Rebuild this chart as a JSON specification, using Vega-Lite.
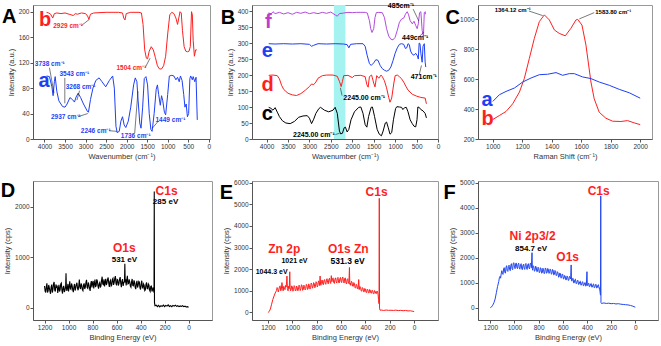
{
"$schema": "https://vega.github.io/schema/vega-lite/v6.json",
"padding": {"left": 0, "top": 1, "right": 0, "bottom": 0},
"columns": 3,
"align": "none",
"bounds": "flush",
"spacing": {"row": 42, "column": 40},
"resolve": {"scale": {"color": "independent"}},
"config": {
  "font": "Liberation Sans",
  "view": {"stroke": "#999", "strokeWidth": 1},
  "axis": {"grid": false, "labelFontSize": 6.5, "titleFontSize": 7.5, "titleFontWeight": "normal", "labelColor": "#333", "titleColor": "#333", "domainColor": "#555", "tickColor": "#555", "tickSize": 3, "labelPadding": 1, "titlePadding": 3, "labelFont": "Liberation Sans", "titleFont": "Liberation Sans", "labelOverlap": false, "labelFlush": false, "tickCount": 20}
},
"concat": [
{
  "width": 177, "height": 134,
  "layer": [
    {"data": {"values": [
      {"x":3950,"y":99,"s":"a"},{"x":3880,"y":98,"s":"a"},{"x":3820,"y":82,"s":"a"},{"x":3790,"y":68,"s":"a"},{"x":3760,"y":90,"s":"a"},{"x":3740,"y":98,"s":"a"},{"x":3700,"y":75,"s":"a"},{"x":3650,"y":60,"s":"a"},{"x":3560,"y":51,"s":"a"},{"x":3500,"y":50,"s":"a"},{"x":3450,"y":55,"s":"a"},{"x":3380,"y":65,"s":"a"},{"x":3320,"y":62,"s":"a"},{"x":3270,"y":58,"s":"a"},{"x":3230,"y":66,"s":"a"},{"x":3180,"y":72,"s":"a"},{"x":3120,"y":65,"s":"a"},{"x":3050,"y":55,"s":"a"},{"x":2960,"y":44,"s":"a"},{"x":2930,"y":42,"s":"a"},{"x":2880,"y":62,"s":"a"},{"x":2820,"y":80,"s":"a"},{"x":2750,"y":92,"s":"a"},{"x":2670,"y":96,"s":"a"},{"x":2600,"y":90,"s":"a"},{"x":2510,"y":82,"s":"a"},{"x":2420,"y":92,"s":"a"},{"x":2340,"y":99,"s":"a"},{"x":2300,"y":80,"s":"a"},{"x":2260,"y":20,"s":"a"},{"x":2230,"y":10,"s":"a"},{"x":2180,"y":12,"s":"a"},{"x":2140,"y":28,"s":"a"},{"x":2100,"y":35,"s":"a"},{"x":2060,"y":22,"s":"a"},{"x":2020,"y":18,"s":"a"},{"x":1960,"y":28,"s":"a"},{"x":1900,"y":50,"s":"a"},{"x":1830,"y":85,"s":"a"},{"x":1790,"y":96,"s":"a"},{"x":1750,"y":90,"s":"a"},{"x":1720,"y":60,"s":"a"},{"x":1680,"y":25,"s":"a"},{"x":1650,"y":17,"s":"a"},{"x":1610,"y":50,"s":"a"},{"x":1570,"y":95,"s":"a"},{"x":1530,"y":98,"s":"a"},{"x":1490,"y":85,"s":"a"},{"x":1450,"y":40,"s":"a"},{"x":1410,"y":15,"s":"a"},{"x":1380,"y":12,"s":"a"},{"x":1330,"y":40,"s":"a"},{"x":1280,"y":78,"s":"a"},{"x":1250,"y":85,"s":"a"},{"x":1220,"y":70,"s":"a"},{"x":1180,"y":53,"s":"a"},{"x":1150,"y":68,"s":"a"},{"x":1120,"y":60,"s":"a"},{"x":1080,"y":42,"s":"a"},{"x":1050,"y":38,"s":"a"},{"x":1000,"y":70,"s":"a"},{"x":960,"y":99,"s":"a"},{"x":900,"y":100,"s":"a"},{"x":850,"y":99,"s":"a"},{"x":800,"y":93,"s":"a"},{"x":760,"y":97,"s":"a"},{"x":720,"y":90,"s":"a"},{"x":690,"y":99,"s":"a"},{"x":650,"y":92,"s":"a"},{"x":610,"y":70,"s":"a"},{"x":580,"y":50,"s":"a"},{"x":550,"y":55,"s":"a"},{"x":520,"y":35,"s":"a"},{"x":490,"y":40,"s":"a"},{"x":460,"y":95,"s":"a"},{"x":440,"y":99,"s":"a"},{"x":400,"y":93,"s":"a"},{"x":380,"y":98,"s":"a"},{"x":340,"y":90,"s":"a"},{"x":310,"y":97,"s":"a"},{"x":280,"y":30,"s":"a"},
      {"x":3950,"y":199,"s":"b"},{"x":3900,"y":198,"s":"b"},{"x":3850,"y":196,"s":"b"},{"x":3800,"y":190,"s":"b"},{"x":3760,"y":197,"s":"b"},{"x":3700,"y":198,"s":"b"},{"x":3600,"y":197,"s":"b"},{"x":3500,"y":198,"s":"b"},{"x":3400,"y":196,"s":"b"},{"x":3300,"y":194,"s":"b"},{"x":3250,"y":197,"s":"b"},{"x":3200,"y":196,"s":"b"},{"x":3100,"y":198,"s":"b"},{"x":3000,"y":197,"s":"b"},{"x":2950,"y":193,"s":"b"},{"x":2920,"y":188,"s":"b"},{"x":2880,"y":196,"s":"b"},{"x":2800,"y":198,"s":"b"},{"x":2500,"y":199,"s":"b"},{"x":2200,"y":199,"s":"b"},{"x":2100,"y":198,"s":"b"},{"x":2070,"y":190,"s":"b"},{"x":2040,"y":187,"s":"b"},{"x":2010,"y":197,"s":"b"},{"x":1900,"y":199,"s":"b"},{"x":1700,"y":199,"s":"b"},{"x":1640,"y":198,"s":"b"},{"x":1600,"y":180,"s":"b"},{"x":1560,"y":140,"s":"b"},{"x":1520,"y":127,"s":"b"},{"x":1490,"y":126,"s":"b"},{"x":1450,"y":138,"s":"b"},{"x":1400,"y":145,"s":"b"},{"x":1350,"y":140,"s":"b"},{"x":1300,"y":128,"s":"b"},{"x":1250,"y":115,"s":"b"},{"x":1200,"y":110,"s":"b"},{"x":1150,"y":110,"s":"b"},{"x":1100,"y":115,"s":"b"},{"x":1050,"y":130,"s":"b"},{"x":1000,"y":165,"s":"b"},{"x":950,"y":195,"s":"b"},{"x":900,"y":199,"s":"b"},{"x":850,"y":197,"s":"b"},{"x":800,"y":190,"s":"b"},{"x":760,"y":180,"s":"b"},{"x":730,"y":190,"s":"b"},{"x":700,"y":200,"s":"b"},{"x":670,"y":198,"s":"b"},{"x":640,"y":170,"s":"b"},{"x":600,"y":145,"s":"b"},{"x":560,"y":138,"s":"b"},{"x":520,"y":137,"s":"b"},{"x":480,"y":138,"s":"b"},{"x":450,"y":145,"s":"b"},{"x":420,"y":200,"s":"b"},{"x":400,"y":195,"s":"b"},{"x":380,"y":155,"s":"b"},{"x":350,"y":130,"s":"b"},{"x":320,"y":140,"s":"b"},{"x":290,"y":140,"s":"b"}
    ]},
    "mark": {"type": "line", "strokeWidth": 1},
    "encoding": {
      "x": {"field": "x", "type": "quantitative", "scale": {"domain": [-30, 4280], "reverse": true, "nice": false, "zero": false}, "axis": {"values": [0,500,1000,1500,2000,2500,3000,3500,4000], "tickCount": 20, "format": "d", "labelOverlap": false, "title": "Wavenumber (cm⁻¹)"}},
      "y": {"field": "y", "type": "quantitative", "scale": {"domain": [0, 210.5], "nice": false, "zero": false}, "axis": {"values": [0,40,80,120,160,200], "tickCount": 20, "format": "d", "labelOverlap": false, "title": "Intensity (a.u.)"}},
      "color": {"field": "s", "type": "nominal", "scale": {"domain": ["a","b","k"], "range": ["#1f3ff5","#ff1f1f","#000000"]}, "legend": null}
    }},
    {"data": {"values": [
      {"x":3106,"y":178,"x2":2906,"y2":188},{"x":1549,"y":112,"x2":1429,"y2":127},{"x":3880,"y":112,"x2":3768,"y2":72},{"x":3505,"y":96,"x2":3505,"y2":56},{"x":3146,"y":76,"x2":3210,"y2":61},{"x":3186,"y":35,"x2":2946,"y2":40},{"x":2427,"y":13,"x2":2227,"y2":12},{"x":1804,"y":9,"x2":1724,"y2":75},{"x":1230,"y":28,"x2":1373,"y2":17}
    ]},
    "mark": {"type": "rule", "strokeWidth": 0.6, "color": "#222"},
    "encoding": {"x": {"field": "x", "type": "quantitative"}, "y": {"field": "y", "type": "quantitative"}, "x2": {"field": "x2"}, "y2": {"field": "y2"}}},
    {"data": {"values": [
      {"x":3425,"y":175,"t":"2929 cm⁻¹","s":"b"},{"x":1884,"y":108,"t":"1504 cm⁻¹","s":"b"},{"x":3872,"y":115,"t":"3738 cm⁻¹","s":"a"},{"x":3273,"y":99,"t":"3543 cm⁻¹","s":"a"},{"x":3122,"y":78,"t":"3268 cm⁻¹","s":"a"},{"x":3481,"y":31,"t":"2937 cm⁻¹","s":"a"},{"x":2754,"y":10,"t":"2246 cm⁻¹","s":"a"},{"x":1780,"y":2,"t":"1736 cm⁻¹","s":"a"},{"x":934,"y":26,"t":"1449 cm⁻¹","s":"a"}
    ]},
    "mark": {"type": "text", "fontSize": 6.5, "fontWeight": "bold", "align": "center", "baseline": "alphabetic"},
    "encoding": {"x": {"field": "x", "type": "quantitative"}, "y": {"field": "y", "type": "quantitative"}, "text": {"field": "t"}, "color": {"field": "s", "type": "nominal", "scale": {"domain": ["a","b","k"], "range": ["#1f3ff5","#ff1f1f","#000000"]}, "legend": null}}},
    {"data": {"values": [
      {"x":3984,"y":177,"t":"b","s":"b"},{"x":4008,"y":81,"t":"a","s":"a"},{"x":4860,"y":183,"t":"A","s":"k"}
    ]},
    "mark": {"type": "text", "fontSize": 20, "fontWeight": "bold", "align": "center", "baseline": "alphabetic"},
    "encoding": {"x": {"field": "x", "type": "quantitative"}, "y": {"field": "y", "type": "quantitative"}, "text": {"field": "t"}, "color": {"field": "s", "type": "nominal", "scale": {"domain": ["a","b","k"], "range": ["#1f3ff5","#ff1f1f","#000000"]}, "legend": null}}}
  ]
},
{
  "width": 186, "height": 134,
  "layer": [
    {"data": {"values": [{"x":2160,"x2":2430}]},
    "mark": {"type": "rect", "color": "#a4f3f1"},
    "encoding": {"x": {"field": "x", "type": "quantitative", "scale": {"domain": [0, 4340], "reverse": true, "nice": false, "zero": false}, "axis": {"values": [0,500,1000,1500,2000,2500,3000,3500,4000], "tickCount": 20, "format": "d", "labelOverlap": false, "title": "Wavenumber (cm⁻¹)"}}, "x2": {"field": "x2"}}},
    {"data": {"values": [
      {"x":3950,"y":395,"s":"f"},{"x":3900,"y":390,"s":"f"},{"x":3850,"y":398,"s":"f"},{"x":3800,"y":392,"s":"f"},{"x":3700,"y":396,"s":"f"},{"x":3600,"y":391,"s":"f"},{"x":3500,"y":395,"s":"f"},{"x":3400,"y":390,"s":"f"},{"x":3300,"y":396,"s":"f"},{"x":3200,"y":393,"s":"f"},{"x":3100,"y":397,"s":"f"},{"x":3000,"y":392,"s":"f"},{"x":2900,"y":395,"s":"f"},{"x":2800,"y":392,"s":"f"},{"x":2700,"y":396,"s":"f"},{"x":2600,"y":393,"s":"f"},{"x":2500,"y":397,"s":"f"},{"x":2400,"y":388,"s":"f"},{"x":2350,"y":384,"s":"f"},{"x":2300,"y":392,"s":"f"},{"x":2200,"y":394,"s":"f"},{"x":2100,"y":396,"s":"f"},{"x":2000,"y":395,"s":"f"},{"x":1900,"y":396,"s":"f"},{"x":1800,"y":396,"s":"f"},{"x":1700,"y":396,"s":"f"},{"x":1650,"y":394,"s":"f"},{"x":1600,"y":370,"s":"f"},{"x":1570,"y":345,"s":"f"},{"x":1540,"y":333,"s":"f"},{"x":1500,"y":345,"s":"f"},{"x":1470,"y":380,"s":"f"},{"x":1440,"y":395,"s":"f"},{"x":1380,"y":396,"s":"f"},{"x":1300,"y":395,"s":"f"},{"x":1250,"y":380,"s":"f"},{"x":1200,"y":345,"s":"f"},{"x":1150,"y":322,"s":"f"},{"x":1100,"y":312,"s":"f"},{"x":1050,"y":310,"s":"f"},{"x":1000,"y":318,"s":"f"},{"x":950,"y":340,"s":"f"},{"x":900,"y":365,"s":"f"},{"x":850,"y":375,"s":"f"},{"x":800,"y":378,"s":"f"},{"x":760,"y":390,"s":"f"},{"x":720,"y":398,"s":"f"},{"x":690,"y":390,"s":"f"},{"x":650,"y":370,"s":"f"},{"x":600,"y":360,"s":"f"},{"x":560,"y":368,"s":"f"},{"x":520,"y":355,"s":"f"},{"x":485,"y":345,"s":"f"},{"x":460,"y":360,"s":"f"},{"x":430,"y":395,"s":"f"},{"x":400,"y":398,"s":"f"},{"x":370,"y":340,"s":"f"},{"x":340,"y":320,"s":"f"},{"x":320,"y":395,"s":"f"},{"x":300,"y":398,"s":"f"},{"x":290,"y":390,"s":"f"},
      {"x":3950,"y":298,"s":"e"},{"x":3800,"y":297,"s":"e"},{"x":3600,"y":298,"s":"e"},{"x":3400,"y":297,"s":"e"},{"x":3200,"y":298,"s":"e"},{"x":3000,"y":296,"s":"e"},{"x":2950,"y":290,"s":"e"},{"x":2900,"y":293,"s":"e"},{"x":2800,"y":298,"s":"e"},{"x":2600,"y":297,"s":"e"},{"x":2400,"y":298,"s":"e"},{"x":2200,"y":297,"s":"e"},{"x":2120,"y":295,"s":"e"},{"x":2080,"y":285,"s":"e"},{"x":2040,"y":296,"s":"e"},{"x":1900,"y":298,"s":"e"},{"x":1750,"y":298,"s":"e"},{"x":1700,"y":290,"s":"e"},{"x":1650,"y":260,"s":"e"},{"x":1600,"y":236,"s":"e"},{"x":1560,"y":230,"s":"e"},{"x":1500,"y":238,"s":"e"},{"x":1450,"y":248,"s":"e"},{"x":1400,"y":246,"s":"e"},{"x":1350,"y":230,"s":"e"},{"x":1300,"y":220,"s":"e"},{"x":1250,"y":215,"s":"e"},{"x":1200,"y":212,"s":"e"},{"x":1150,"y":215,"s":"e"},{"x":1100,"y":225,"s":"e"},{"x":1050,"y":245,"s":"e"},{"x":1000,"y":268,"s":"e"},{"x":950,"y":285,"s":"e"},{"x":900,"y":296,"s":"e"},{"x":850,"y":298,"s":"e"},{"x":800,"y":296,"s":"e"},{"x":760,"y":283,"s":"e"},{"x":730,"y":285,"s":"e"},{"x":700,"y":298,"s":"e"},{"x":670,"y":295,"s":"e"},{"x":640,"y":275,"s":"e"},{"x":600,"y":265,"s":"e"},{"x":560,"y":262,"s":"e"},{"x":520,"y":268,"s":"e"},{"x":480,"y":260,"s":"e"},{"x":460,"y":250,"s":"e"},{"x":440,"y":300,"s":"e"},{"x":420,"y":298,"s":"e"},{"x":400,"y":268,"s":"e"},{"x":370,"y":240,"s":"e"},{"x":350,"y":290,"s":"e"},{"x":320,"y":298,"s":"e"},{"x":300,"y":240,"s":"e"},{"x":285,"y":225,"s":"e"},
      {"x":3950,"y":199,"s":"d"},{"x":3850,"y":200,"s":"d"},{"x":3750,"y":198,"s":"d"},{"x":3700,"y":188,"s":"d"},{"x":3650,"y":168,"s":"d"},{"x":3600,"y":155,"s":"d"},{"x":3500,"y":143,"s":"d"},{"x":3400,"y":138,"s":"d"},{"x":3300,"y":136,"s":"d"},{"x":3200,"y":142,"s":"d"},{"x":3100,"y":152,"s":"d"},{"x":3000,"y":164,"s":"d"},{"x":2950,"y":172,"s":"d"},{"x":2900,"y":170,"s":"d"},{"x":2850,"y":178,"s":"d"},{"x":2800,"y":190,"s":"d"},{"x":2700,"y":198,"s":"d"},{"x":2600,"y":200,"s":"d"},{"x":2450,"y":200,"s":"d"},{"x":2350,"y":196,"s":"d"},{"x":2300,"y":180,"s":"d"},{"x":2260,"y":164,"s":"d"},{"x":2230,"y":180,"s":"d"},{"x":2200,"y":198,"s":"d"},{"x":2100,"y":199,"s":"d"},{"x":2000,"y":192,"s":"d"},{"x":1950,"y":198,"s":"d"},{"x":1800,"y":199,"s":"d"},{"x":1700,"y":195,"s":"d"},{"x":1660,"y":170,"s":"d"},{"x":1630,"y":162,"s":"d"},{"x":1600,"y":195,"s":"d"},{"x":1550,"y":200,"s":"d"},{"x":1500,"y":175,"s":"d"},{"x":1470,"y":163,"s":"d"},{"x":1430,"y":198,"s":"d"},{"x":1380,"y":190,"s":"d"},{"x":1330,"y":200,"s":"d"},{"x":1300,"y":195,"s":"d"},{"x":1250,"y":182,"s":"d"},{"x":1200,"y":160,"s":"d"},{"x":1150,"y":130,"s":"d"},{"x":1120,"y":115,"s":"d"},{"x":1080,"y":128,"s":"d"},{"x":1030,"y":175,"s":"d"},{"x":1000,"y":198,"s":"d"},{"x":950,"y":200,"s":"d"},{"x":900,"y":195,"s":"d"},{"x":850,"y":188,"s":"d"},{"x":800,"y":178,"s":"d"},{"x":750,"y":165,"s":"d"},{"x":700,"y":153,"s":"d"},{"x":600,"y":140,"s":"d"},{"x":500,"y":134,"s":"d"},{"x":400,"y":130,"s":"d"},{"x":300,"y":128,"s":"d"},{"x":270,"y":110,"s":"d"},
      {"x":3950,"y":99,"s":"c"},{"x":3900,"y":96,"s":"c"},{"x":3850,"y":90,"s":"c"},{"x":3800,"y":98,"s":"c"},{"x":3750,"y":84,"s":"c"},{"x":3700,"y":70,"s":"c"},{"x":3630,"y":57,"s":"c"},{"x":3550,"y":50,"s":"c"},{"x":3450,"y":48,"s":"c"},{"x":3350,"y":55,"s":"c"},{"x":3250,"y":68,"s":"c"},{"x":3150,"y":72,"s":"c"},{"x":3050,"y":73,"s":"c"},{"x":3000,"y":65,"s":"c"},{"x":2950,"y":48,"s":"c"},{"x":2900,"y":62,"s":"c"},{"x":2850,"y":80,"s":"c"},{"x":2780,"y":95,"s":"c"},{"x":2740,"y":99,"s":"c"},{"x":2650,"y":90,"s":"c"},{"x":2550,"y":85,"s":"c"},{"x":2450,"y":90,"s":"c"},{"x":2400,"y":99,"s":"c"},{"x":2350,"y":80,"s":"c"},{"x":2300,"y":25,"s":"c"},{"x":2270,"y":16,"s":"c"},{"x":2230,"y":18,"s":"c"},{"x":2190,"y":35,"s":"c"},{"x":2160,"y":37,"s":"c"},{"x":2120,"y":22,"s":"c"},{"x":2080,"y":30,"s":"c"},{"x":2030,"y":60,"s":"c"},{"x":1950,"y":85,"s":"c"},{"x":1850,"y":99,"s":"c"},{"x":1800,"y":100,"s":"c"},{"x":1750,"y":80,"s":"c"},{"x":1700,"y":45,"s":"c"},{"x":1660,"y":37,"s":"c"},{"x":1620,"y":70,"s":"c"},{"x":1560,"y":99,"s":"c"},{"x":1530,"y":100,"s":"c"},{"x":1480,"y":70,"s":"c"},{"x":1420,"y":30,"s":"c"},{"x":1370,"y":15,"s":"c"},{"x":1320,"y":10,"s":"c"},{"x":1280,"y":25,"s":"c"},{"x":1230,"y":50,"s":"c"},{"x":1200,"y":53,"s":"c"},{"x":1160,"y":35,"s":"c"},{"x":1120,"y":15,"s":"c"},{"x":1080,"y":20,"s":"c"},{"x":1040,"y":60,"s":"c"},{"x":990,"y":95,"s":"c"},{"x":960,"y":101,"s":"c"},{"x":900,"y":100,"s":"c"},{"x":850,"y":99,"s":"c"},{"x":820,"y":92,"s":"c"},{"x":780,"y":98,"s":"c"},{"x":740,"y":99,"s":"c"},{"x":700,"y":85,"s":"c"},{"x":650,"y":60,"s":"c"},{"x":600,"y":48,"s":"c"},{"x":560,"y":40,"s":"c"},{"x":520,"y":38,"s":"c"},{"x":490,"y":60,"s":"c"},{"x":470,"y":100,"s":"c"},{"x":440,"y":99,"s":"c"},{"x":400,"y":92,"s":"c"},{"x":350,"y":88,"s":"c"},{"x":300,"y":80,"s":"c"},{"x":270,"y":66,"s":"c"}
    ]},
    "mark": {"type": "line", "strokeWidth": 1},
    "encoding": {
      "x": {"field": "x", "type": "quantitative"},
      "y": {"field": "y", "type": "quantitative", "scale": {"domain": [0, 419], "nice": false, "zero": false}, "axis": {"values": [0,50,100,150,200,250,300,350,400], "tickCount": 20, "format": "d", "labelOverlap": false, "title": "Intensity (a.u.)"}},
      "color": {"field": "s", "type": "nominal", "scale": {"domain": ["c","d","e","f","fl","k"], "range": ["#000000","#ff1f1f","#1f3ff5","#b44ae0","#c23ccc","#000000"]}, "legend": null}
    }},
    {"data": {"values": [
      {"x":579,"y":406,"x2":448,"y2":369},{"x":440,"y":320,"x2":332,"y2":334},{"x":440,"y":200,"x2":386,"y2":230},{"x":2239,"y":136,"x2":2278,"y2":160},{"x":2394,"y":14,"x2":2293,"y2":18}
    ]},
    "mark": {"type": "rule", "strokeWidth": 0.6, "color": "#222"},
    "encoding": {"x": {"field": "x", "type": "quantitative"}, "y": {"field": "y", "type": "quantitative"}, "x2": {"field": "x2"}, "y2": {"field": "y2"}}},
    {"data": {"values": [
      {"x":865,"y":410,"t":"485cm⁻¹","s":"k"},{"x":533,"y":310,"t":"449cm⁻¹","s":"k"},{"x":332,"y":188,"t":"471cm⁻¹","s":"k"},{"x":1722,"y":122,"t":"2245.00 cm⁻¹","s":"k"},{"x":2896,"y":7,"t":"2245.00 cm⁻¹","s":"k"}
    ]},
    "mark": {"type": "text", "fontSize": 7, "fontWeight": "bold", "align": "center", "baseline": "alphabetic"},
    "encoding": {"x": {"field": "x", "type": "quantitative"}, "y": {"field": "y", "type": "quantitative"}, "text": {"field": "t"}, "color": {"field": "s", "type": "nominal", "scale": {"domain": ["c","d","e","f","fl","k"], "range": ["#000000","#ff1f1f","#1f3ff5","#b44ae0","#c23ccc","#000000"]}, "legend": null}}},
    {"data": {"values": [
      {"x":3961,"y":347,"t":"f","s":"fl"},{"x":3980,"y":256,"t":"e","s":"e"},{"x":3977,"y":149,"t":"d","s":"d"},{"x":3980,"y":60,"t":"c","s":"c"},{"x":4900,"y":361,"t":"B","s":"k"}
    ]},
    "mark": {"type": "text", "fontSize": 20, "fontWeight": "bold", "align": "center", "baseline": "alphabetic"},
    "encoding": {"x": {"field": "x", "type": "quantitative"}, "y": {"field": "y", "type": "quantitative"}, "text": {"field": "t"}, "color": {"field": "s", "type": "nominal", "scale": {"domain": ["c","d","e","f","fl","k"], "range": ["#000000","#ff1f1f","#1f3ff5","#b44ae0","#c23ccc","#000000"]}, "legend": null}}}
  ]
},
{
  "width": 174, "height": 134,
  "layer": [
    {"data": {"values": [
      {"x":1000,"y":330,"s":"b"},{"x":1045,"y":357,"s":"b"},{"x":1090,"y":384,"s":"b"},{"x":1135,"y":435,"s":"b"},{"x":1181,"y":514,"s":"b"},{"x":1214,"y":604,"s":"b"},{"x":1248,"y":738,"s":"b"},{"x":1282,"y":873,"s":"b"},{"x":1316,"y":985,"s":"b"},{"x":1350,"y":1030,"s":"b"},{"x":1384,"y":996,"s":"b"},{"x":1418,"y":929,"s":"b"},{"x":1451,"y":906,"s":"b"},{"x":1492,"y":890,"s":"b"},{"x":1530,"y":940,"s":"b"},{"x":1564,"y":996,"s":"b"},{"x":1576,"y":1000,"s":"b"},{"x":1605,"y":962,"s":"b"},{"x":1632,"y":828,"s":"b"},{"x":1666,"y":581,"s":"b"},{"x":1688,"y":469,"s":"b"},{"x":1722,"y":379,"s":"b"},{"x":1767,"y":339,"s":"b"},{"x":1813,"y":319,"s":"b"},{"x":1869,"y":317,"s":"b"},{"x":1914,"y":323,"s":"b"},{"x":1959,"y":308,"s":"b"},{"x":2000,"y":296,"s":"b"},
      {"x":1000,"y":451,"s":"a"},{"x":1045,"y":496,"s":"a"},{"x":1090,"y":518,"s":"a"},{"x":1147,"y":541,"s":"a"},{"x":1203,"y":581,"s":"a"},{"x":1260,"y":608,"s":"a"},{"x":1316,"y":630,"s":"a"},{"x":1372,"y":633,"s":"a"},{"x":1429,"y":644,"s":"a"},{"x":1474,"y":626,"s":"a"},{"x":1519,"y":637,"s":"a"},{"x":1553,"y":637,"s":"a"},{"x":1609,"y":615,"s":"a"},{"x":1666,"y":604,"s":"a"},{"x":1722,"y":581,"s":"a"},{"x":1790,"y":559,"s":"a"},{"x":1858,"y":532,"s":"a"},{"x":1926,"y":509,"s":"a"},{"x":2000,"y":473,"s":"a"}
    ]},
    "mark": {"type": "line", "strokeWidth": 1},
    "encoding": {
      "x": {"field": "x", "type": "quantitative", "scale": {"domain": [900, 2080], "nice": false, "zero": false}, "axis": {"values": [1000,1200,1400,1600,1800,2000], "tickCount": 20, "format": "d", "labelOverlap": false, "title": "Raman Shift (cm⁻¹)"}},
      "y": {"field": "y", "type": "quantitative", "scale": {"domain": [200, 1096], "nice": false, "zero": false}, "axis": {"values": [200,400,600,800,1000], "tickCount": 20, "format": "d", "labelOverlap": false, "title": "Intensity (a.u.)"}},
      "color": {"field": "s", "type": "nominal", "scale": {"domain": ["a","b","k"], "range": ["#1f3ff5","#ff1f1f","#000000"]}, "legend": null}
    }},
    {"data": {"values": [
      {"x":1245,"y":1056,"x2":1339,"y2":1025},{"x":1688,"y":1045,"x2":1587,"y2":1003}
    ]},
    "mark": {"type": "rule", "strokeWidth": 0.6, "color": "#222"},
    "encoding": {"x": {"field": "x", "type": "quantitative"}, "y": {"field": "y", "type": "quantitative"}, "x2": {"field": "x2"}, "y2": {"field": "y2"}}},
    {"data": {"values": [
      {"x":1135,"y":1047,"t":"1364.12 cm⁻¹","s":"k"},{"x":1817,"y":1034,"t":"1583.80 cm⁻¹","s":"k"}
    ]},
    "mark": {"type": "text", "fontSize": 6, "fontWeight": "bold", "align": "center", "baseline": "alphabetic"},
    "encoding": {"x": {"field": "x", "type": "quantitative"}, "y": {"field": "y", "type": "quantitative"}, "text": {"field": "t"}, "color": {"field": "s", "type": "nominal", "scale": {"domain": ["a","b","k"], "range": ["#1f3ff5","#ff1f1f","#000000"]}, "legend": null}}},
    {"data": {"values": [
      {"x":962,"y":424,"t":"a","s":"a"},{"x":965,"y":292,"t":"b","s":"b"},{"x":728,"y":971,"t":"C","s":"k"}
    ]},
    "mark": {"type": "text", "fontSize": 20, "fontWeight": "bold", "align": "center", "baseline": "alphabetic"},
    "encoding": {"x": {"field": "x", "type": "quantitative"}, "y": {"field": "y", "type": "quantitative"}, "text": {"field": "t"}, "color": {"field": "s", "type": "nominal", "scale": {"domain": ["a","b","k"], "range": ["#1f3ff5","#ff1f1f","#000000"]}, "legend": null}}}
  ]
},
{
  "width": 179, "height": 139,
  "layer": [
    {"data": {"values": [
      {"x":1200,"y":430},{"x":1195,"y":330},{"x":1190,"y":301},{"x":1185,"y":420},{"x":1180,"y":482},{"x":1175,"y":300},{"x":1170,"y":333},{"x":1165,"y":450},{"x":1160,"y":394},{"x":1155,"y":330},{"x":1150,"y":275},{"x":1145,"y":410},{"x":1140,"y":456},{"x":1135,"y":300},{"x":1130,"y":357},{"x":1125,"y":470},{"x":1120,"y":508},{"x":1115,"y":350},{"x":1110,"y":319},{"x":1105,"y":460},{"x":1100,"y":390},{"x":1095,"y":440},{"x":1090,"y":292},{"x":1085,"y":370},{"x":1080,"y":454},{"x":1075,"y":320},{"x":1070,"y":356},{"x":1065,"y":470},{"x":1060,"y":488},{"x":1055,"y":340},{"x":1050,"y":280},{"x":1045,"y":400},{"x":1040,"y":432},{"x":1035,"y":310},{"x":1030,"y":344},{"x":1024,"y":420},{"x":1021,"y":680},{"x":1018,"y":400},{"x":1014,"y":330},{"x":1010,"y":388},{"x":1005,"y":470},{"x":1000,"y":320},{"x":995,"y":410},{"x":990,"y":522},{"x":985,"y":380},{"x":980,"y":364},{"x":975,"y":480},{"x":970,"y":436},{"x":965,"y":350},{"x":960,"y":308},{"x":955,"y":420},{"x":950,"y":470},{"x":945,"y":340},{"x":940,"y":392},{"x":935,"y":460},{"x":930,"y":494},{"x":925,"y":380},{"x":920,"y":346},{"x":915,"y":430},{"x":910,"y":558},{"x":905,"y":400},{"x":900,"y":370},{"x":895,"y":480},{"x":890,"y":444},{"x":885,"y":360},{"x":880,"y":338},{"x":875,"y":450},{"x":870,"y":482},{"x":865,"y":370},{"x":860,"y":406},{"x":855,"y":500},{"x":850,"y":550},{"x":845,"y":400},{"x":840,"y":384},{"x":835,"y":500},{"x":830,"y":448},{"x":825,"y":380},{"x":820,"y":332},{"x":815,"y":470},{"x":810,"y":526},{"x":805,"y":400},{"x":800,"y":490},{"x":795,"y":530},{"x":790,"y":383},{"x":785,"y":470},{"x":780,"y":556},{"x":775,"y":420},{"x":770,"y":429},{"x":765,"y":560},{"x":760,"y":532},{"x":755,"y":430},{"x":750,"y":375},{"x":745,"y":470},{"x":740,"y":498},{"x":735,"y":400},{"x":730,"y":431},{"x":725,"y":540},{"x":720,"y":614},{"x":715,"y":470},{"x":710,"y":457},{"x":705,"y":560},{"x":700,"y":420},{"x":695,"y":500},{"x":690,"y":573},{"x":685,"y":450},{"x":680,"y":486},{"x":675,"y":560},{"x":670,"y":599},{"x":665,"y":480},{"x":660,"y":412},{"x":655,"y":520},{"x":650,"y":545},{"x":645,"y":430},{"x":640,"y":448},{"x":635,"y":560},{"x":630,"y":581},{"x":625,"y":450},{"x":620,"y":494},{"x":615,"y":580},{"x":610,"y":627},{"x":605,"y":480},{"x":600,"y":440},{"x":595,"y":560},{"x":590,"y":549},{"x":585,"y":440},{"x":580,"y":478},{"x":575,"y":560},{"x":570,"y":607},{"x":565,"y":480},{"x":560,"y":406},{"x":555,"y":520},{"x":550,"y":565},{"x":545,"y":430},{"x":540,"y":494},{"x":534,"y":520},{"x":531,"y":870},{"x":528,"y":500},{"x":524,"y":560},{"x":520,"y":442},{"x":515,"y":540},{"x":510,"y":631},{"x":505,"y":470},{"x":500,"y":480},{"x":495,"y":560},{"x":490,"y":513},{"x":485,"y":430},{"x":480,"y":406},{"x":475,"y":510},{"x":470,"y":569},{"x":465,"y":440},{"x":460,"y":432},{"x":455,"y":540},{"x":450,"y":505},{"x":445,"y":400},{"x":440,"y":368},{"x":435,"y":480},{"x":430,"y":531},{"x":425,"y":400},{"x":420,"y":444},{"x":415,"y":520},{"x":410,"y":507},{"x":405,"y":390},{"x":400,"y":360},{"x":395,"y":470},{"x":390,"y":534},{"x":385,"y":410},{"x":380,"y":388},{"x":375,"y":470},{"x":370,"y":442},{"x":365,"y":340},{"x":360,"y":356},{"x":355,"y":460},{"x":350,"y":500},{"x":345,"y":380},{"x":340,"y":374},{"x":335,"y":470},{"x":330,"y":448},{"x":325,"y":350},{"x":320,"y":322},{"x":315,"y":420},{"x":310,"y":426},{"x":305,"y":320},{"x":300,"y":360},{"x":295,"y":400},{"x":292,"y":350},{"x":288,"y":300},{"x":286,"y":2300},{"x":284,"y":100},{"x":280,"y":40},{"x":270,"y":50},{"x":260,"y":20},{"x":250,"y":45},{"x":240,"y":15},{"x":230,"y":40},{"x":220,"y":25},{"x":210,"y":50},{"x":200,"y":20},{"x":190,"y":45},{"x":180,"y":30},{"x":170,"y":55},{"x":160,"y":25},{"x":150,"y":40},{"x":140,"y":20},{"x":130,"y":45},{"x":120,"y":30},{"x":110,"y":50},{"x":100,"y":25},{"x":90,"y":40},{"x":80,"y":20},{"x":70,"y":35},{"x":60,"y":25},{"x":50,"y":40},{"x":40,"y":20},{"x":30,"y":30},{"x":20,"y":15},{"x":10,"y":20},{"x":0,"y":10}
    ]},
    "mark": {"type": "line", "strokeWidth": 1.1, "color": "#000000"},
    "encoding": {
      "x": {"field": "x", "type": "quantitative", "scale": {"domain": [-195, 1296], "reverse": true, "nice": false, "zero": false}, "axis": {"values": [0,200,400,600,800,1000,1200], "tickCount": 20, "format": "d", "labelOverlap": false, "title": "Binding Energy (eV)"}},
      "y": {"field": "y", "type": "quantitative", "scale": {"domain": [-244, 2509], "nice": false, "zero": false}, "axis": {"values": [0,1000,2000], "tickCount": 20, "format": "d", "labelOverlap": false, "title": "Intensity (cps)"}}
    }},
    {"data": {"values": [
      {"x":183,"y":2232,"t":"C1s","s":"r"},{"x":535,"y":1106,"t":"O1s","s":"r"}
    ]},
    "mark": {"type": "text", "fontSize": 12, "fontWeight": "bold", "align": "center", "baseline": "alphabetic"},
    "encoding": {"x": {"field": "x", "type": "quantitative"}, "y": {"field": "y", "type": "quantitative"}, "text": {"field": "t"}, "color": {"field": "s", "type": "nominal", "scale": {"domain": ["r","k"], "range": ["#ff1f1f","#000000"]}, "legend": null}}},
    {"data": {"values": [
      {"x":192,"y":2053,"t":"285 eV","s":"k"},{"x":535,"y":907,"t":"531 eV","s":"k"}
    ]},
    "mark": {"type": "text", "fontSize": 8, "fontWeight": "bold", "align": "center", "baseline": "alphabetic"},
    "encoding": {"x": {"field": "x", "type": "quantitative"}, "y": {"field": "y", "type": "quantitative"}, "text": {"field": "t"}, "color": {"field": "s", "type": "nominal", "scale": {"domain": ["r","k"], "range": ["#ff1f1f","#000000"]}, "legend": null}}},
    {"data": {"values": [
      {"x":1504,"y":2198,"t":"D","s":"k"}
    ]},
    "mark": {"type": "text", "fontSize": 20, "fontWeight": "bold", "align": "center", "baseline": "alphabetic"},
    "encoding": {"x": {"field": "x", "type": "quantitative"}, "y": {"field": "y", "type": "quantitative"}, "text": {"field": "t"}, "color": {"field": "s", "type": "nominal", "scale": {"domain": ["r","k"], "range": ["#ff1f1f","#000000"]}, "legend": null}}}
  ]
},
{
  "width": 186, "height": 139,
  "layer": [
    {"data": {"values": [
      {"x":1200,"y":0},{"x":1195,"y":15},{"x":1190,"y":40},{"x":1180,"y":160},{"x":1170,"y":380},{"x":1160,"y":600},{"x":1150,"y":760},{"x":1140,"y":900},{"x":1130,"y":1010},{"x":1125,"y":1150},{"x":1120,"y":1100},{"x":1115,"y":950},{"x":1110,"y":1060},{"x":1105,"y":1200},{"x":1100,"y":1230},{"x":1095,"y":1000},{"x":1090,"y":1080},{"x":1085,"y":1380},{"x":1080,"y":1120},{"x":1075,"y":1000},{"x":1070,"y":1210},{"x":1065,"y":1120},{"x":1060,"y":1050},{"x":1055,"y":1250},{"x":1050,"y":1180},{"x":1044,"y":1680},{"x":1040,"y":1100},{"x":1035,"y":1000},{"x":1030,"y":1220},{"x":1025,"y":1100},{"x":1021,"y":1880},{"x":1018,"y":1150},{"x":1014,"y":1000},{"x":1010,"y":1040},{"x":1005,"y":1230},{"x":1000,"y":1180},{"x":995,"y":980},{"x":990,"y":1060},{"x":985,"y":1240},{"x":980,"y":1190},{"x":975,"y":990},{"x":970,"y":1020},{"x":965,"y":1220},{"x":960,"y":1160},{"x":955,"y":1000},{"x":950,"y":1070},{"x":945,"y":1260},{"x":940,"y":1210},{"x":935,"y":1010},{"x":930,"y":1090},{"x":925,"y":1280},{"x":920,"y":1230},{"x":915,"y":1020},{"x":910,"y":1060},{"x":905,"y":1260},{"x":900,"y":1200},{"x":895,"y":1040},{"x":890,"y":1110},{"x":885,"y":1300},{"x":880,"y":1260},{"x":875,"y":1060},{"x":870,"y":1100},{"x":865,"y":1320},{"x":860,"y":1240},{"x":855,"y":1080},{"x":850,"y":1150},{"x":845,"y":1360},{"x":840,"y":1300},{"x":835,"y":1120},{"x":830,"y":1180},{"x":825,"y":1380},{"x":820,"y":1330},{"x":815,"y":1140},{"x":810,"y":1210},{"x":805,"y":1420},{"x":800,"y":1370},{"x":795,"y":1180},{"x":790,"y":1250},{"x":785,"y":1460},{"x":780,"y":1420},{"x":775,"y":1240},{"x":772,"y":1680},{"x":768,"y":1300},{"x":765,"y":1260},{"x":760,"y":1440},{"x":755,"y":1500},{"x":750,"y":1320},{"x":745,"y":1280},{"x":740,"y":1480},{"x":735,"y":1520},{"x":730,"y":1350},{"x":725,"y":1300},{"x":720,"y":1500},{"x":715,"y":1560},{"x":710,"y":1380},{"x":705,"y":1320},{"x":700,"y":1530},{"x":695,"y":1580},{"x":690,"y":1400},{"x":685,"y":1340},{"x":680,"y":1700},{"x":675,"y":1420},{"x":670,"y":1560},{"x":665,"y":1600},{"x":660,"y":1380},{"x":655,"y":1340},{"x":650,"y":1540},{"x":645,"y":1600},{"x":640,"y":1420},{"x":635,"y":1360},{"x":630,"y":1580},{"x":625,"y":1620},{"x":620,"y":1400},{"x":615,"y":1360},{"x":610,"y":1560},{"x":605,"y":1620},{"x":600,"y":1440},{"x":595,"y":1380},{"x":590,"y":1600},{"x":585,"y":1640},{"x":580,"y":1420},{"x":575,"y":1360},{"x":570,"y":1570},{"x":565,"y":1600},{"x":560,"y":1380},{"x":555,"y":1320},{"x":550,"y":1520},{"x":545,"y":1560},{"x":540,"y":1340},{"x":535,"y":1400},{"x":531,"y":2080},{"x":528,"y":1300},{"x":525,"y":1360},{"x":520,"y":1250},{"x":515,"y":1440},{"x":510,"y":1400},{"x":505,"y":1220},{"x":500,"y":1200},{"x":495,"y":1380},{"x":490,"y":1330},{"x":485,"y":1150},{"x":480,"y":1120},{"x":475,"y":1300},{"x":470,"y":1250},{"x":465,"y":1100},{"x":460,"y":1080},{"x":455,"y":1520},{"x":450,"y":1060},{"x":445,"y":1200},{"x":440,"y":1160},{"x":435,"y":1000},{"x":430,"y":980},{"x":425,"y":1150},{"x":420,"y":1120},{"x":415,"y":960},{"x":410,"y":950},{"x":405,"y":1110},{"x":400,"y":1080},{"x":395,"y":930},{"x":390,"y":920},{"x":385,"y":1080},{"x":380,"y":1050},{"x":375,"y":910},{"x":370,"y":900},{"x":365,"y":1060},{"x":360,"y":1030},{"x":355,"y":900},{"x":350,"y":890},{"x":345,"y":1030},{"x":340,"y":1000},{"x":335,"y":870},{"x":330,"y":860},{"x":325,"y":1010},{"x":320,"y":980},{"x":315,"y":880},{"x":310,"y":870},{"x":305,"y":990},{"x":300,"y":940},{"x":296,"y":820},{"x":292,"y":600},{"x":288,"y":400},{"x":286,"y":5280},{"x":284,"y":200},{"x":280,"y":100},{"x":270,"y":110},{"x":250,"y":90},{"x":230,"y":110},{"x":210,"y":95},{"x":190,"y":100},{"x":170,"y":90},{"x":150,"y":105},{"x":130,"y":85},{"x":110,"y":95},{"x":90,"y":80},{"x":70,"y":90},{"x":50,"y":70},{"x":30,"y":75},{"x":10,"y":50},{"x":0,"y":40}
    ]},
    "mark": {"type": "line", "strokeWidth": 1, "color": "#ff1f1f"},
    "encoding": {
      "x": {"field": "x", "type": "quantitative", "scale": {"domain": [-196, 1331], "reverse": true, "nice": false, "zero": false}, "axis": {"values": [0,200,400,600,800,1000,1200], "tickCount": 20, "format": "d", "labelOverlap": false, "title": "Binding Energy (eV)"}},
      "y": {"field": "y", "type": "quantitative", "scale": {"domain": [-351, 6080], "nice": false, "zero": false}, "axis": {"values": [0,1000,2000,3000,4000,5000,6000], "tickCount": 20, "format": "d", "labelOverlap": false, "title": "Intensity (cps)"}}
    }},
    {"data": {"values": [
      {"x":308,"y":5386,"t":"C1s","s":"r"},{"x":1066,"y":2762,"t":"Zn 2p","s":"r"},{"x":540,"y":2762,"t":"O1s Zn","s":"r"}
    ]},
    "mark": {"type": "text", "fontSize": 12, "fontWeight": "bold", "align": "center", "baseline": "alphabetic"},
    "encoding": {"x": {"field": "x", "type": "quantitative"}, "y": {"field": "y", "type": "quantitative"}, "text": {"field": "t"}, "color": {"field": "s", "type": "nominal", "scale": {"domain": ["r","k"], "range": ["#ff1f1f","#000000"]}, "legend": null}}},
    {"data": {"values": [
      {"x":546,"y":2238,"t":"531.3 eV","s":"k"}
    ]},
    "mark": {"type": "text", "fontSize": 8.5, "fontWeight": "bold", "align": "center", "baseline": "alphabetic"},
    "encoding": {"x": {"field": "x", "type": "quantitative"}, "y": {"field": "y", "type": "quantitative"}, "text": {"field": "t"}, "color": {"field": "s", "type": "nominal", "scale": {"domain": ["r","k"], "range": ["#ff1f1f","#000000"]}, "legend": null}}},
    {"data": {"values": [
      {"x":982,"y":2269,"t":"1021 eV","s":"k"},{"x":1170,"y":1775,"t":"1044.3 eV","s":"k"}
    ]},
    "mark": {"type": "text", "fontSize": 7, "fontWeight": "bold", "align": "center", "baseline": "alphabetic"},
    "encoding": {"x": {"field": "x", "type": "quantitative"}, "y": {"field": "y", "type": "quantitative"}, "text": {"field": "t"}, "color": {"field": "s", "type": "nominal", "scale": {"domain": ["r","k"], "range": ["#ff1f1f","#000000"]}, "legend": null}}},
    {"data": {"values": [
      {"x":1540,"y":5261,"t":"E","s":"k"}
    ]},
    "mark": {"type": "text", "fontSize": 20, "fontWeight": "bold", "align": "center", "baseline": "alphabetic"},
    "encoding": {"x": {"field": "x", "type": "quantitative"}, "y": {"field": "y", "type": "quantitative"}, "text": {"field": "t"}, "color": {"field": "s", "type": "nominal", "scale": {"domain": ["r","k"], "range": ["#ff1f1f","#000000"]}, "legend": null}}}
  ]
},
{
  "width": 180, "height": 139,
  "layer": [
    {"data": {"values": [
      {"x":1200,"y":0},{"x":1190,"y":30},{"x":1180,"y":100},{"x":1170,"y":200},{"x":1160,"y":350},{"x":1150,"y":600},{"x":1140,"y":850},{"x":1130,"y":1050},{"x":1125,"y":1200},{"x":1120,"y":1250},{"x":1115,"y":1180},{"x":1110,"y":1350},{"x":1105,"y":1480},{"x":1100,"y":1380},{"x":1095,"y":1330},{"x":1090,"y":1550},{"x":1085,"y":1600},{"x":1080,"y":1420},{"x":1075,"y":1380},{"x":1070,"y":1620},{"x":1065,"y":1680},{"x":1060,"y":1480},{"x":1055,"y":1450},{"x":1050,"y":1650},{"x":1045,"y":1700},{"x":1040,"y":1520},{"x":1035,"y":1480},{"x":1030,"y":1700},{"x":1025,"y":1760},{"x":1020,"y":1560},{"x":1015,"y":1520},{"x":1010,"y":1780},{"x":1005,"y":1800},{"x":1000,"y":1620},{"x":995,"y":1560},{"x":990,"y":1760},{"x":985,"y":1790},{"x":980,"y":1600},{"x":975,"y":1560},{"x":970,"y":1740},{"x":965,"y":1780},{"x":960,"y":1580},{"x":955,"y":1540},{"x":950,"y":1720},{"x":945,"y":1760},{"x":940,"y":1560},{"x":935,"y":1520},{"x":930,"y":1700},{"x":925,"y":1740},{"x":920,"y":1580},{"x":915,"y":1530},{"x":910,"y":1740},{"x":905,"y":1770},{"x":900,"y":1560},{"x":895,"y":1530},{"x":890,"y":1720},{"x":885,"y":1760},{"x":880,"y":1590},{"x":875,"y":1550},{"x":870,"y":1760},{"x":865,"y":1790},{"x":860,"y":1600},{"x":855,"y":2200},{"x":852,"y":1560},{"x":850,"y":1500},{"x":845,"y":1680},{"x":840,"y":1640},{"x":835,"y":1460},{"x":830,"y":1480},{"x":825,"y":1660},{"x":820,"y":1620},{"x":815,"y":1440},{"x":810,"y":1450},{"x":805,"y":1620},{"x":800,"y":1580},{"x":795,"y":1400},{"x":790,"y":1420},{"x":785,"y":1600},{"x":780,"y":1560},{"x":775,"y":1380},{"x":770,"y":1400},{"x":765,"y":1580},{"x":760,"y":1540},{"x":755,"y":1360},{"x":750,"y":1380},{"x":745,"y":1590},{"x":740,"y":1560},{"x":735,"y":1380},{"x":730,"y":1400},{"x":725,"y":1570},{"x":720,"y":1540},{"x":715,"y":1370},{"x":710,"y":1390},{"x":705,"y":1550},{"x":700,"y":1520},{"x":695,"y":1340},{"x":690,"y":1360},{"x":685,"y":1530},{"x":680,"y":1500},{"x":675,"y":1310},{"x":670,"y":1330},{"x":665,"y":1490},{"x":660,"y":1460},{"x":655,"y":1280},{"x":650,"y":1300},{"x":645,"y":1440},{"x":640,"y":1400},{"x":635,"y":1220},{"x":630,"y":1240},{"x":625,"y":1390},{"x":620,"y":1360},{"x":615,"y":1180},{"x":610,"y":1200},{"x":605,"y":1350},{"x":600,"y":1320},{"x":595,"y":1150},{"x":590,"y":1160},{"x":585,"y":1290},{"x":580,"y":1260},{"x":575,"y":1110},{"x":570,"y":1120},{"x":565,"y":1270},{"x":560,"y":1240},{"x":555,"y":1090},{"x":550,"y":1100},{"x":545,"y":1250},{"x":540,"y":1220},{"x":535,"y":1150},{"x":531,"y":1710},{"x":528,"y":1100},{"x":525,"y":1060},{"x":520,"y":1160},{"x":515,"y":1180},{"x":510,"y":990},{"x":505,"y":1000},{"x":500,"y":1120},{"x":495,"y":1140},{"x":490,"y":960},{"x":485,"y":970},{"x":480,"y":1080},{"x":475,"y":1100},{"x":470,"y":930},{"x":465,"y":940},{"x":460,"y":1040},{"x":455,"y":1060},{"x":450,"y":900},{"x":445,"y":910},{"x":440,"y":1020},{"x":435,"y":1040},{"x":430,"y":880},{"x":425,"y":890},{"x":420,"y":990},{"x":415,"y":1010},{"x":410,"y":860},{"x":405,"y":900},{"x":400,"y":1440},{"x":397,"y":900},{"x":393,"y":880},{"x":390,"y":960},{"x":385,"y":980},{"x":380,"y":840},{"x":375,"y":850},{"x":370,"y":950},{"x":365,"y":970},{"x":360,"y":820},{"x":355,"y":830},{"x":350,"y":930},{"x":345,"y":950},{"x":340,"y":800},{"x":335,"y":810},{"x":330,"y":920},{"x":325,"y":940},{"x":320,"y":790},{"x":315,"y":800},{"x":310,"y":900},{"x":305,"y":920},{"x":300,"y":780},{"x":296,"y":800},{"x":292,"y":640},{"x":288,"y":500},{"x":286,"y":4470},{"x":284,"y":200},{"x":280,"y":170},{"x":260,"y":190},{"x":240,"y":170},{"x":220,"y":180},{"x":200,"y":160},{"x":180,"y":170},{"x":160,"y":150},{"x":140,"y":160},{"x":120,"y":140},{"x":100,"y":130},{"x":80,"y":120},{"x":60,"y":110},{"x":40,"y":90},{"x":20,"y":60},{"x":0,"y":20}
    ]},
    "mark": {"type": "line", "strokeWidth": 1, "color": "#2448f0"},
    "encoding": {
      "x": {"field": "x", "type": "quantitative", "scale": {"domain": [-188, 1302], "reverse": true, "nice": false, "zero": false}, "axis": {"values": [0,200,400,600,800,1000,1200], "tickCount": 20, "format": "d", "labelOverlap": false, "title": "Binding Energy (eV)"}},
      "y": {"field": "y", "type": "quantitative", "scale": {"domain": [-492, 5068], "nice": false, "zero": false}, "axis": {"values": [0,1000,2000,3000,4000,5000], "tickCount": 20, "format": "d", "labelOverlap": false, "title": "Intensity (cps)"}}
    }},
    {"data": {"values": [
      {"x":303,"y":4507,"t":"C1s","s":"r"},{"x":850,"y":2707,"t":"Ni 2p3/2","s":"r"},{"x":560,"y":1867,"t":"O1s","s":"r"}
    ]},
    "mark": {"type": "text", "fontSize": 12, "fontWeight": "bold", "align": "center", "baseline": "alphabetic"},
    "encoding": {"x": {"field": "x", "type": "quantitative"}, "y": {"field": "y", "type": "quantitative"}, "text": {"field": "t"}, "color": {"field": "s", "type": "nominal", "scale": {"domain": ["r","k"], "range": ["#ff1f1f","#000000"]}, "legend": null}}},
    {"data": {"values": [
      {"x":863,"y":2280,"t":"854.7 eV","s":"k"}
    ]},
    "mark": {"type": "text", "fontSize": 8, "fontWeight": "bold", "align": "center", "baseline": "alphabetic"},
    "encoding": {"x": {"field": "x", "type": "quantitative"}, "y": {"field": "y", "type": "quantitative"}, "text": {"field": "t"}, "color": {"field": "s", "type": "nominal", "scale": {"domain": ["r","k"], "range": ["#ff1f1f","#000000"]}, "legend": null}}},
    {"data": {"values": [
      {"x":1538,"y":4360,"t":"F","s":"k"}
    ]},
    "mark": {"type": "text", "fontSize": 20, "fontWeight": "bold", "align": "center", "baseline": "alphabetic"},
    "encoding": {"x": {"field": "x", "type": "quantitative"}, "y": {"field": "y", "type": "quantitative"}, "text": {"field": "t"}, "color": {"field": "s", "type": "nominal", "scale": {"domain": ["r","k"], "range": ["#ff1f1f","#000000"]}, "legend": null}}}
  ]
}
]
}
